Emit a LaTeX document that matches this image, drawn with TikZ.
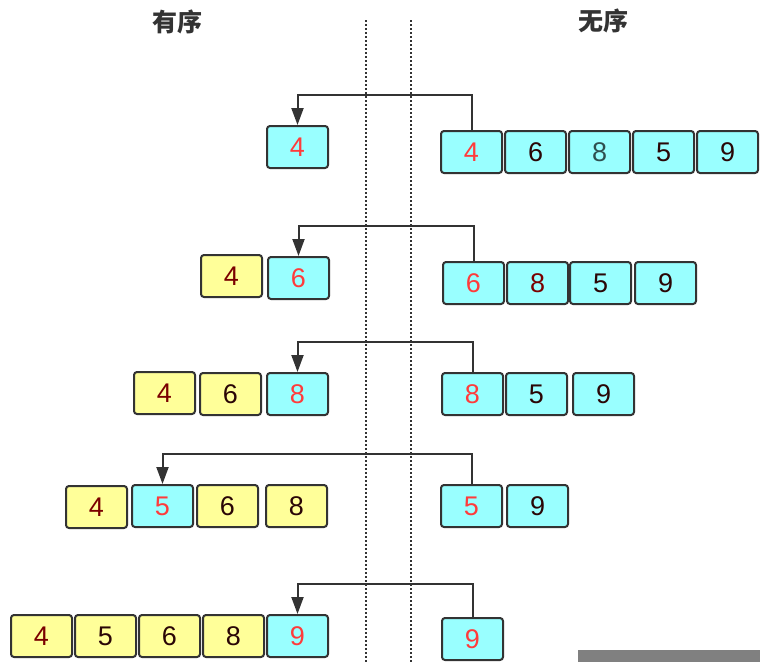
\documentclass[tikz,border=0pt]{standalone}
\usepackage{fontspec}
\setmainfont{Liberation Sans}
\newfontfamily\cjk{Noto Sans CJK SC}
\usetikzlibrary{arrows.meta}
\definecolor{ccyan}{HTML}{99FFFF}
\definecolor{cyellow}{HTML}{FFFF99}
\definecolor{cedge}{HTML}{333333}
\definecolor{cred}{HTML}{FF3B3B}
\definecolor{cmaroon}{HTML}{7A0000}
\definecolor{cdark}{HTML}{2A0606}
\definecolor{cteal}{HTML}{2F4F4F}
\definecolor{cmark}{HTML}{808080}
\tikzset{
  every picture/.style={x=1pt, y=-1pt},
  cell/.style={draw=cedge, fill=#1, line width=2pt, rounded corners=3pt,
    minimum width=61pt, minimum height=42pt, inner sep=0pt,
    font=\fontsize{27}{30}\selectfont, text=cdark},
  cell/.default=ccyan,
  pick/.style={cell=ccyan, text=cred},
  done/.style={cell=cyellow},
  arrow/.style={-{Triangle[length=17pt, width=12pt]}, draw=cedge, line width=2pt},
  divider/.style={draw=cedge, line width=2pt, dash pattern=on 2pt off 2pt},
  title/.style={font=\cjk\bfseries\fontsize{25}{28}\selectfont, text=cedge},
}

\begin{document}
\begin{tikzpicture}
  \useasboundingbox (0,0) rectangle (773,662);
  \node[title] (tl) at (177,22) {有序};
  \node[title] (tr) at (603,21) {无序};
  \draw[divider] (366,20) -- (366,662);
  \draw[divider] (411,20) -- (411,662);

  % round 1
  \node[pick] (l1a) at (297.5,147) {4};
  \node[pick] (r1a) at (471.5,152) {4};
  \node[cell] (r1b) at (535.5,152) {6};
  \node[cell, text=cteal] (r1c) at (599.5,152) {8};
  \node[cell] (r1d) at (663.5,152) {5};
  \node[cell] (r1e) at (727.5,152) {9};
  \draw[arrow] (r1a.north) -- ++(0,-35) -| (l1a.north);

  % round 2
  \node[done, text=cmaroon] (l2a) at (231.5,276) {4};
  \node[pick] (l2b) at (298.5,278) {6};
  \node[pick] (r2a) at (473.5,283) {6};
  \node[cell, text=cmaroon] (r2b) at (537.5,283) {8};
  \node[cell] (r2c) at (600.5,283) {5};
  \node[cell] (r2d) at (665.5,283) {9};
  \draw[arrow] (r2a.north) -- ++(0,-35) -| (l2b.north);

  % round 3
  \node[done, text=cmaroon] (l3a) at (164.5,393) {4};
  \node[done] (l3b) at (230.5,394) {6};
  \node[pick] (l3c) at (297.5,394) {8};
  \node[pick] (r3a) at (472.5,394) {8};
  \node[cell] (r3b) at (536.5,394) {5};
  \node[cell] (r3c) at (603.5,394) {9};
  \draw[arrow] (r3a.north) -- ++(0,-30) -| (l3c.north);

  % round 4
  \node[done, text=cmaroon] (l4a) at (96.5,507) {4};
  \node[pick] (l4b) at (162.5,506) {5};
  \node[done] (l4c) at (227.5,506) {6};
  \node[done] (l4d) at (296.5,506) {8};
  \node[pick] (r4a) at (471.5,506) {5};
  \node[cell] (r4b) at (537.5,506) {9};
  \draw[arrow] (r4a.north) -- ++(0,-30) -| (l4b.north);

  % round 5
  \node[done, text=cmaroon] (l5a) at (41.5,636) {4};
  \node[done] (l5b) at (105.5,636) {5};
  \node[done] (l5c) at (169.5,636) {6};
  \node[done] (l5d) at (233.5,636) {8};
  \node[pick] (l5e) at (297.5,636) {9};
  \node[pick] (r5a) at (472.5,639) {9};
  \draw[arrow] (r5a.north) -- ++(0,-33) -| (l5e.north);

  \fill[cmark] (578,650) rectangle (760,662);
\end{tikzpicture}
\end{document}
